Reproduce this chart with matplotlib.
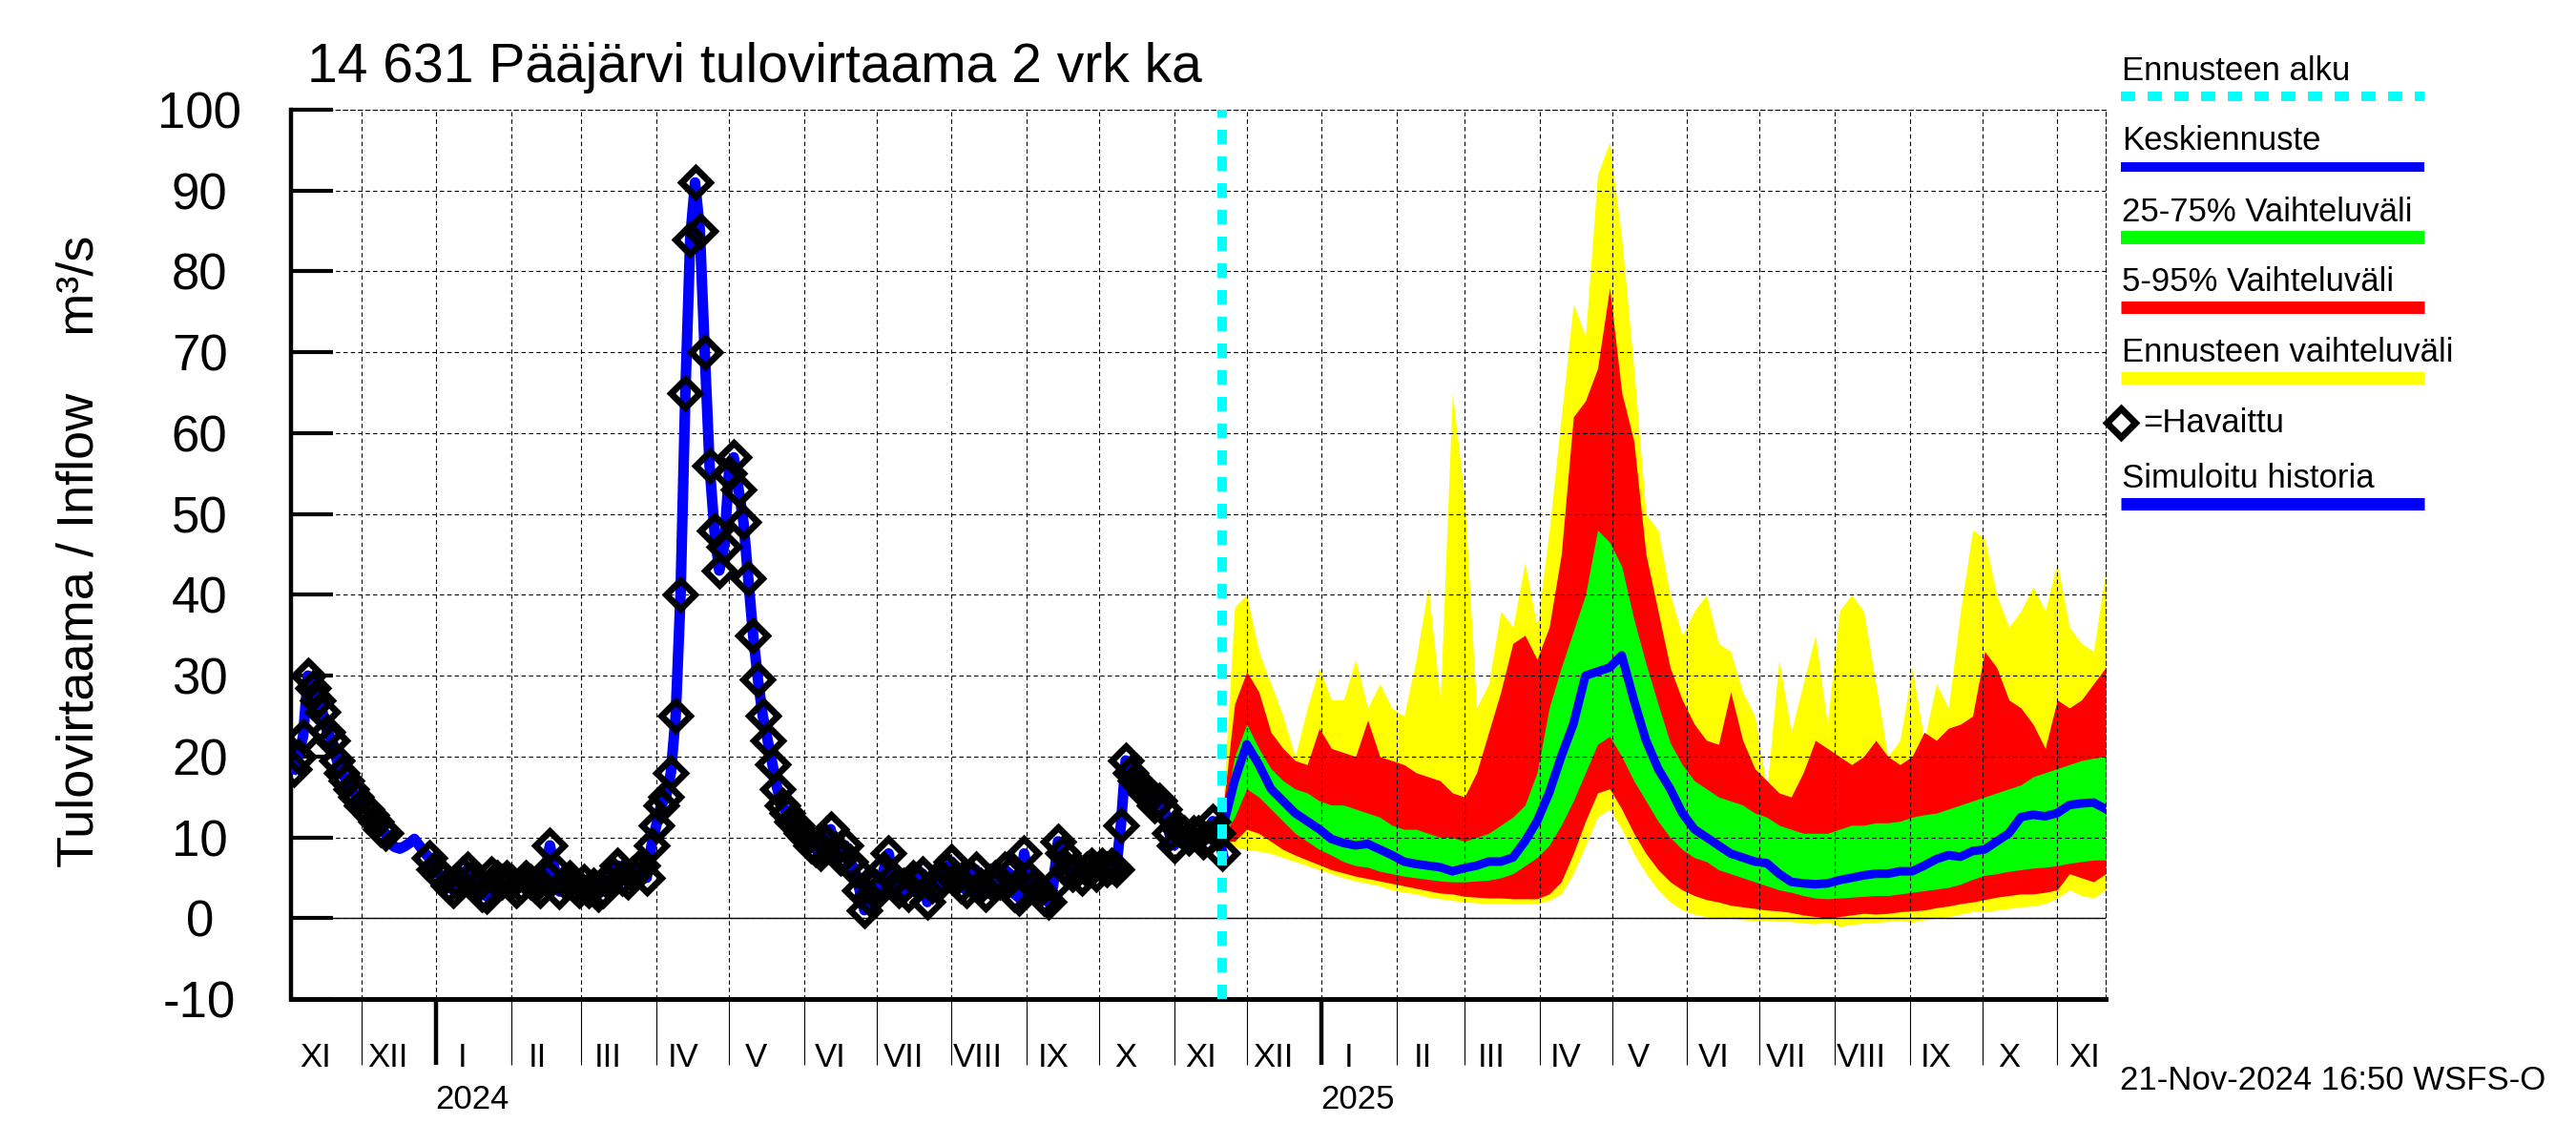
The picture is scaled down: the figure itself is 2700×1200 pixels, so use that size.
import numpy as np
import datetime as dt
import matplotlib
matplotlib.use("Agg")
import matplotlib.pyplot as plt
import matplotlib.dates as mdates
import matplotlib.transforms as mtransforms
from matplotlib.lines import Line2D

plt.rcParams["font.family"] = ["Liberation Sans", "DejaVu Sans"]
plt.rcParams["axes.unicode_minus"] = False

# history: simulated line / observed diamonds, every 2nd day from 3 Nov 2023
hist_start = np.datetime64("2023-11-03")
hist_vals = [
    18.5, 20, 22.5, 30, 28.5, 27, 25.5, 23, 22, 19.5, 18, 17, 16, 15, 14, 13.5, 12.8, 12, 11, 10.5,
    9.2, 8.8, 8.6, 8.9, 9.3, 9.8, 9.0, 8.2,
    7.5, 6, 5.5, 5, 4, 3.5, 4.5, 5.5, 6, 5, 4, 3,
    2.7, 5.5, 5, 4.5, 5, 4.5, 3.5, 4, 5, 4.5, 4, 3.5, 5.5,
    9, 6, 3.3, 4.5, 5, 4, 3.5, 4.5, 3.5, 4, 3, 3.5,
    4.5, 5.5, 6.5, 5, 4.5, 5.5, 6, 6.5, 5, 9, 11.5, 14,
    15, 18, 25, 40, 65, 84, 91,
    85, 70, 56, 48, 43, 46, 55, 57, 53, 49, 42, 35, 29.5, 25, 22, 19, 16,
    14, 13, 12, 11.5, 10.5, 10, 9, 8.5, 8, 9.5, 11, 8.5,
    7.5, 9, 7, 6, 3.5, 1, 2.5, 4, 3.5, 6, 8, 5,
    3.5, 4, 3, 5, 4.5, 5.5, 2, 4, 4, 5, 6, 7,
    5, 4, 3.5, 5, 6, 4, 3, 4.5, 5, 4.5, 6, 5.5,
    3, 2.5, 8, 5, 4, 3.5, 2.5, 2, 4, 9.5, 8, 6,
    5.5, 6, 5, 6, 6.5, 5.5, 6.5, 6, 6.5, 6, 11.5, 19.5,
    18, 17, 16.5, 15.5, 15, 14, 14.5, 13.5, 10.5, 9, 11, 10.5,
    10, 10.5, 10.5, 9.5, 10, 12, 10.5, 8,
]
obs_gap = (20, 28)  # no observations here, simulated line only

# forecast, every 5th day from 21 Nov 2024
fc_start = np.datetime64("2024-11-21")
fc_min = [
    9, 8.8, 8.5, 8.3, 8, 7.5, 7, 6.5, 6, 5.5,
    5, 4.6, 4.3, 4, 3.5, 3.2, 3, 2.6, 2.4, 2.2,
    2, 1.9, 1.8, 1.8, 1.8, 1.8, 1.8, 2.2, 3, 5.5,
    9, 12.5, 13.5, 11, 8, 5.5, 3.5, 2, 1, 0.5,
    0.2, 0.1, 0, -0.2, -0.3, -0.3, -0.4, -0.4, -0.6, -0.7,
    -0.5, -1, -0.8, -0.6, -0.5, -0.4, -0.3, -0.5, -0.2, 0,
    0.2, 0.5, 0.8, 0.8, 1, 1.2, 1.4, 1.5, 1.8, 2.5,
    3.5, 2.8, 2.5, 3.5,
]
fc_p5 = [
    9.5, 9.5, 11, 10.5, 9.5, 8.5, 7.8, 7.2, 6.6, 6,
    5.6, 5.2, 4.9, 4.6, 4.3, 4, 3.7, 3.4, 3.1, 3,
    2.7, 2.6, 2.5, 2.5, 2.4, 2.4, 2.4, 3, 4.5, 8,
    12, 15.5, 16, 13.5, 10.5, 8, 6, 4.5, 3.5, 2.8,
    2.3, 2, 1.6, 1.4, 1.2, 1, 0.9, 0.7, 0.4, 0.2,
    0, 0.2, 0.4, 0.6, 0.5, 0.6, 0.8, 0.9, 1, 1.3,
    1.5, 1.8, 2, 2.3, 2.6, 2.8, 3, 3, 3.2, 3.5,
    5.5, 5, 4.5, 5.5,
]
fc_p25 = [
    10, 12.5, 16, 15, 13.5, 12, 10.5, 9.5, 8.5, 7.8,
    7, 6.5, 6.3, 5.8, 5.5, 5.2, 5, 4.8, 4.6, 4.5,
    4.5, 4.6, 4.7, 5, 5.5, 6.5, 7.5, 9, 11.5, 14.5,
    18, 21.5, 22.5, 20, 17, 14.5, 12, 10, 8.5, 7.5,
    7, 6, 5.5, 5, 4.5, 4, 3.5, 3.2, 2.8, 2.5,
    2.4, 2.5, 2.6, 2.7, 2.8, 2.8, 3, 3.2, 3.4, 3.6,
    3.8, 4.2, 4.8, 5.3, 5.5, 5.8, 6, 6.2, 6.3, 6.5,
    6.8, 7, 7.2, 7.2,
]
fc_med = [
    11, 17, 21.5, 19, 16, 14.5, 13, 12, 11, 9.8,
    9.3, 9, 9.2, 8.5, 7.8, 7, 6.7, 6.5, 6.3, 5.8,
    6.2, 6.5, 7, 7, 7.5, 9.5, 12, 15.5, 20, 24,
    30, 30.5, 31, 32.5, 27, 22, 18.5, 16, 13, 11,
    10, 9, 8, 7.5, 7, 6.8, 5.5, 4.5, 4.3, 4.2,
    4.3, 4.7, 5, 5.3, 5.5, 5.5, 5.8, 5.8, 6.5, 7.3,
    7.8, 7.6, 8.3, 8.5, 9.5, 10.5, 12.5, 12.8, 12.6, 13,
    14, 14.2, 14.3, 13.5,
]
fc_p75 = [
    12, 20, 24, 21, 18.5, 17, 16, 15.5, 14.5, 14,
    14, 13.5, 13, 12.5, 11.5, 11, 11, 10.5, 10, 10,
    9.5, 10, 10.5, 11.5, 12.5, 14, 18, 26, 31, 35.5,
    40, 48, 46.5, 43.5, 37, 31.5, 26.5, 21.7, 19, 17,
    16, 15, 14.5, 14, 13, 12.5, 11.5, 11, 10.5, 10.5,
    10.5, 11, 11.5, 11.5, 11.8, 11.8, 12, 12.5, 12.8, 13,
    13.5, 14, 14.5, 15, 15.5, 16, 16.5, 17.5, 18, 18.5,
    19, 19.5, 19.8, 20,
]
fc_p95 = [
    13, 26.5, 30.5, 28, 23, 21, 19.5, 19, 23.5, 21,
    20.5, 20, 24.5, 20, 19.5, 19, 18, 17.5, 17, 15.5,
    15, 18, 23, 28, 34, 35, 32, 36, 45, 62,
    64, 68, 78, 65, 59, 45, 38, 31, 27, 24,
    22, 21.5, 28, 22, 18.5, 17, 15.5, 15, 18, 22,
    21, 20, 19, 20, 22, 20, 19, 20, 23, 22,
    23.5, 24, 25, 33, 31, 27, 26, 24, 21, 27,
    26, 27, 29, 31,
]
fc_max = [
    13, 38.5, 40, 33, 29, 25, 20, 26, 31, 27,
    27, 32, 26, 29, 26, 25, 32, 41, 27, 65,
    52, 26, 29, 38, 36, 44, 36, 48, 62, 76,
    72, 92, 96, 84, 68, 50, 48, 40, 35, 38,
    40, 34, 33, 28, 25, 16, 32, 23, 29, 35,
    24, 38, 40, 38, 29, 20, 22, 31, 22, 29,
    26, 38, 48, 47, 40, 36, 38, 41, 38, 44,
    36, 34, 33, 43,
]

months_roman = ["I", "II", "III", "IV", "V", "VI", "VII", "VIII", "IX", "X", "XI", "XII"]

hist_dates = hist_start + np.arange(len(hist_vals)) * np.timedelta64(2, "D")
fc_dates = fc_start + np.arange(len(fc_med)) * np.timedelta64(5, "D")
obs_vals = np.array(hist_vals, dtype=float)
obs_vals[obs_gap[0]:obs_gap[1]] = np.nan

W, H = 2700, 1200
fig = plt.figure(figsize=(W / 100, H / 100), dpi=100)
ax = fig.add_axes([305 / W, 1 - 1047 / H, (2207 - 305) / W, (1047 - 115) / H])
ax.set_axisbelow(False)

ax.fill_between(fc_dates, fc_min, fc_max, color="yellow", lw=0, zorder=1)
ax.fill_between(fc_dates, fc_p5, fc_p95, color="red", lw=0, zorder=1.1)
ax.fill_between(fc_dates, fc_p25, fc_p75, color="lime", lw=0, zorder=1.2)

ax.axhline(0, color="black", lw=1, zorder=2.6)
ax.plot(fc_dates, fc_med, color="blue", lw=6.5, zorder=3)
ax.plot(hist_dates, hist_vals, color="blue", lw=8, zorder=3)
ax.plot(hist_dates, obs_vals, ls="none", marker="D", ms=15, mfc="none",
        mec="black", mew=5, zorder=4)
ax.axvline(fc_start, color="cyan", lw=7.2, ls=(0, (1.5, 1.3)), zorder=5)

ax.set_xlim(np.datetime64("2023-11-02"), np.datetime64("2025-11-21"))
ax.set_ylim(-10, 100)
ax.set_yticks(range(-10, 101, 10))

ax.xaxis.set_major_locator(mdates.YearLocator())
ax.xaxis.set_minor_locator(mdates.MonthLocator())
grid_ls = (0, (4, 3))
ax.grid(True, which="both", axis="x", color="black", ls=grid_ls, lw=0.8)
ax.grid(True, which="major", axis="y", color="black", ls=grid_ls, lw=0.8)

ax.tick_params(axis="y", direction="in", length=32, width=3, labelsize=38, pad=69)
plt.setp(ax.get_yticklabels(), ha="center")
ax.tick_params(axis="x", which="minor", direction="out", length=50, width=0.8,
               labelbottom=False)
ax.tick_params(axis="x", which="major", direction="out", length=50, width=3.2,
               labelbottom=False)

ax.spines["left"].set_linewidth(3.2)
ax.spines["bottom"].set_linewidth(3.6)
for s in ("top", "right"):
    ax.spines[s].set_linewidth(0.8)
    ax.spines[s].set_linestyle(grid_ls)

# month and year labels under the axis
xfig = mtransforms.blended_transform_factory(ax.transData, fig.transFigure)
m = dt.date(2023, 11, 1)
while m <= dt.date(2025, 11, 1):
    ax.text(mdates.date2num(m + dt.timedelta(days=11)), 1 - 1108 / H,
            months_roman[m.month - 1], transform=xfig, ha="center", va="center",
            fontsize=25, clip_on=False)
    m = dt.date(m.year + m.month // 12, m.month % 12 + 1, 1)
for yr in (2024, 2025):
    ax.text(mdates.date2num(dt.date(yr, 1, 16)), 1 - 1153 / H, str(yr),
            transform=xfig, ha="center", va="center", fontsize=25, clip_on=False)

fig.text(322 / W, 1 - 86 / H, "14 631 Pääjärvi tulovirtaama 2 vrk ka",
         fontsize=41, va="baseline")
fig.text(84 / W, 1 - 578 / H, "Tulovirtaama / Inflow    m³/s", rotation=90,
         ha="center", va="center", fontsize=39)
fig.text(2222 / W, 1 - 1142 / H, "21-Nov-2024 16:50 WSFS-O", fontsize=25,
         va="baseline")

# legend on the right
legend_items = [
    ("Ennusteen alku", 84, 101, "cyan", 7.2, (0, (1.5, 1.3))),
    ("Keskiennuste", 157, 175, "blue", 7.2, "-"),
    ("25-75% Vaihteluväli", 232, 249, "lime", 10, "-"),
    ("5-95% Vaihteluväli", 305, 322, "red", 9.4, "-"),
    ("Ennusteen vaihteluväli", 379, 396, "yellow", 9.4, "-"),
    ("Simuloitu historia", 511, 528, "blue", 9.4, "-"),
]
for label, ty, ly, col, lw, ls in legend_items:
    fig.text(2224 / W, 1 - ty / H, label, fontsize=25, va="baseline")
    fig.add_artist(Line2D([2223 / W, 2541 / W], [1 - ly / H, 1 - ly / H],
                          transform=fig.transFigure, color=col, lw=lw, ls=ls,
                          solid_capstyle="butt", dash_capstyle="butt"))
fig.add_artist(Line2D([2223 / W], [1 - 443 / H], transform=fig.transFigure,
                      marker="D", ms=15, mfc="none", mec="black", mew=5))
fig.text(2246 / W, 1 - 453 / H, "=Havaittu", fontsize=25, va="baseline")

fig.savefig("out.png", dpi=100)
